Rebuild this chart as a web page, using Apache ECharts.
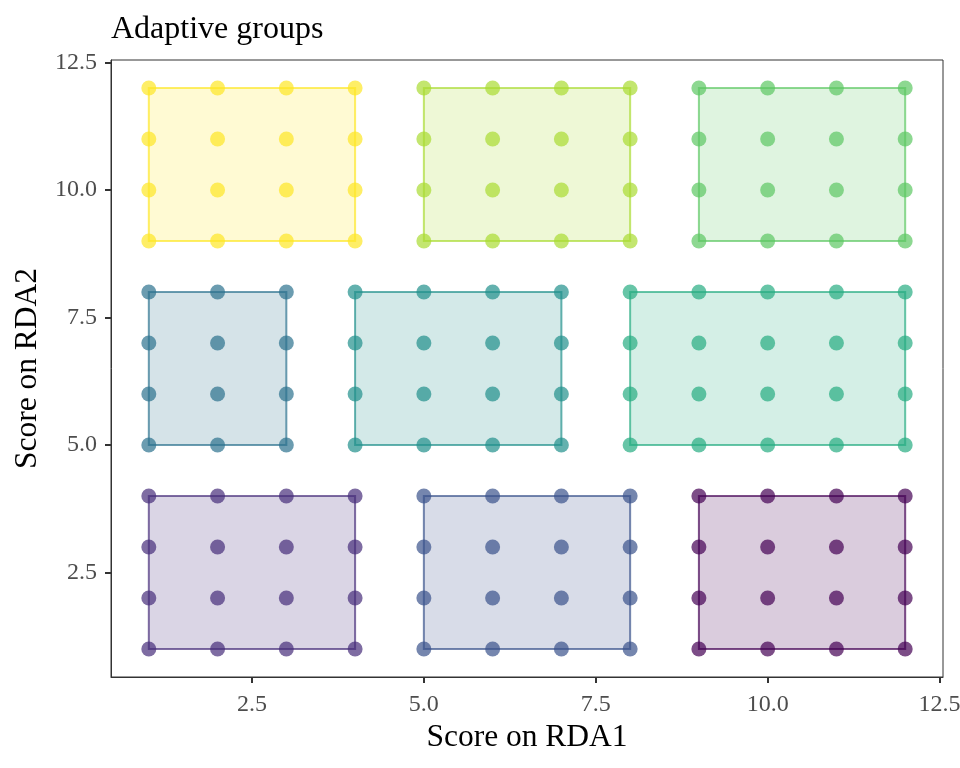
<!DOCTYPE html>
<html><head><meta charset="utf-8">
<script src="https://cdn.jsdelivr.net/npm/echarts@6/dist/echarts.min.js"></script>
<style>html,body{margin:0;padding:0;background:#fff}#c{width:960px;height:768px}</style>
</head><body><div id="c"></div>
<script>
// Group names, colours and the integer grid levels
const groupNames = ['G1','G2','G3','G4','G5','G6','G7','G8','G9'];
const groupColors = ['#440154','#472D7B','#3B528B','#2C728E','#21908C','#27AD81','#5DC863','#AADC32','#FDE725'];
const groupX = [
  [9,10,11,12],
  [1,2,3,4],
  [5,6,7,8],
  [1,2,3],
  [4,5,6,7],
  [8,9,10,11,12],
  [9,10,11,12],
  [5,6,7,8],
  [1,2,3,4]
];
const groupY = [
  [1,2,3,4],
  [1,2,3,4],
  [1,2,3,4],
  [5,6,7,8],
  [5,6,7,8],
  [5,6,7,8],
  [9,10,11,12],
  [9,10,11,12],
  [9,10,11,12]
];
const tickValues = [2.5,5.0,7.5,10.0,12.5];

const font = '"Liberation Serif","DejaVu Serif",serif';
function hexA(h,a){const n=parseInt(h.slice(1),16);return `rgba(${n>>16},${(n>>8)&255},${n&255},${a})`;}

const series = [];
groupNames.forEach((g,i)=>{
  const pts=[];
  groupX[i].forEach(x=>groupY[i].forEach(y=>pts.push([x,y])));
  series.push({type:'scatter',name:g,data:pts,symbolSize:15,z:2,
    itemStyle:{color:groupColors[i],opacity:0.7},silent:true});
});
groupNames.forEach((g,i)=>{
  const xs=groupX[i], ys=groupY[i];
  const x0=Math.min(...xs),x1=Math.max(...xs),y0=Math.min(...ys),y1=Math.max(...ys);
  const hull=[[x0,y0],[x1,y0],[x1,y1],[x0,y1]];
  series.push({type:'custom',name:g+'h',z:3,silent:true,data:[0],
    renderItem:(params,api)=>({type:'polygon',shape:{points:hull.map(p=>api.coord(p))},
      style:{fill:hexA(groupColors[i],0.2),stroke:hexA(groupColors[i],0.7),lineWidth:2}})});
});

const axisCommon = {
  type:'value',min:0.45,max:12.55,splitLine:{show:false},
  axisLine:{show:true,lineStyle:{color:'#333333',width:1}},
  axisTick:{show:true,length:6,customValues:tickValues,lineStyle:{color:'#333333',width:2}},
  axisLabel:{customValues:tickValues,color:'#4D4D4D',fontFamily:font,fontSize:24,
    formatter:v=>v.toFixed(1)},
  nameLocation:'middle',nameTextStyle:{color:'#000',fontFamily:font,fontSize:31.5}
};
const chart = echarts.init(document.getElementById('c'),null,{renderer:'canvas'});
chart.setOption({
  animation:false,
  title:{text:'Adaptive groups',left:106,top:9,textStyle:{fontFamily:font,fontSize:32,fontWeight:'normal',color:'#000'}},
  grid:{left:111,right:17,top:60,bottom:91,outerBoundsMode:'none',containLabel:false,show:true,borderColor:'#333333',borderWidth:1,backgroundColor:'#fff'},
  xAxis:Object.assign({},axisCommon,{name:'Score on RDA1',nameGap:45,axisLabel:Object.assign({},axisCommon.axisLabel,{margin:16})}),
  yAxis:Object.assign({},axisCommon,{name:'Score on RDA2',nameGap:67,axisLabel:Object.assign({},axisCommon.axisLabel,{margin:14})}),
  series
});
</script></body></html>
